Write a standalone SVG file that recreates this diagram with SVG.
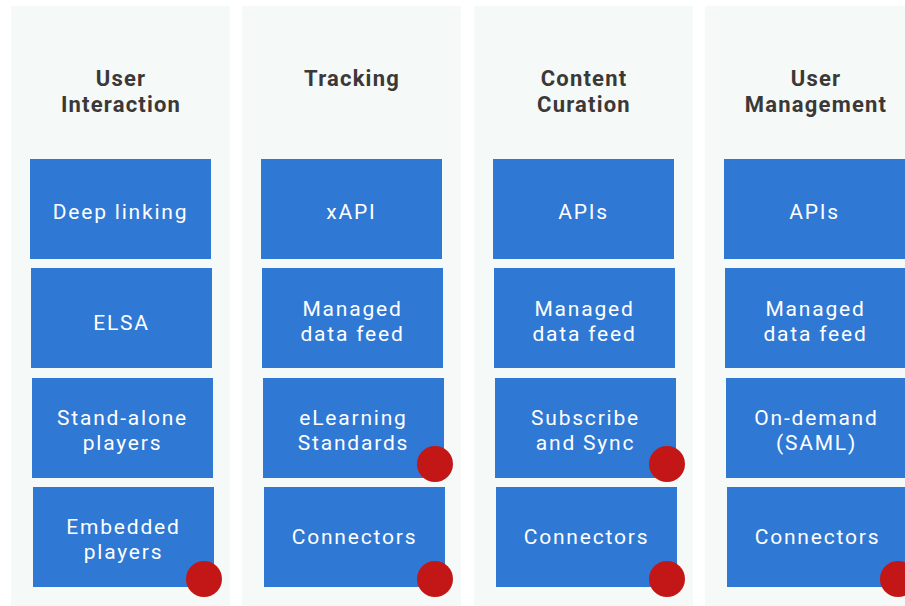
<svg xmlns="http://www.w3.org/2000/svg" width="905" height="606" viewBox="0 0 905 606">
  <style>
    .lane { fill: #f5f9f7; }
    .head { font-family: Roboto, "Open Sans", "Liberation Sans", sans-serif; font-weight: 700; font-size: 22px; fill: #3b3838; text-anchor: middle; letter-spacing: 1.2px; }
    .box rect { fill: #2f78d4; }
    .box text { font-family: Roboto, "Open Sans", "Liberation Sans", sans-serif; font-size: 21px; fill: #ffffff; text-anchor: middle; letter-spacing: 1.8px; }
    .dot { fill: #c31616; }
  </style>
  <rect x="0" y="0" width="905" height="606" fill="#ffffff"/>

  <!-- lanes -->
  <g id="lanes">
    <rect class="lane" x="11" y="6" width="219" height="600"/>
    <rect class="lane" x="242" y="6" width="219" height="600"/>
    <rect class="lane" x="474" y="6" width="219" height="600"/>
    <rect class="lane" x="705" y="6" width="219" height="600"/>
  </g>

  <!-- lane headings -->
  <g id="head-user-interaction"><text class="head" x="121" y="86">User<tspan x="121" dy="26">Interaction</tspan></text></g>
  <g id="head-tracking"><text class="head" x="352" y="86">Tracking</text></g>
  <g id="head-content-curation"><text class="head" x="584" y="86">Content<tspan x="584" dy="26">Curation</tspan></text></g>
  <g id="head-user-management"><text class="head" x="816" y="86">User<tspan x="816" dy="26">Management</tspan></text></g>

  <!-- column 1 -->
  <g id="ui-deep-linking" class="box"><rect x="30" y="159" width="181" height="100"/><text x="120.5" y="219">Deep linking</text></g>
  <g id="ui-elsa" class="box"><rect x="31" y="268" width="181" height="100"/><text x="121.5" y="330">ELSA</text></g>
  <g id="ui-standalone" class="box"><rect x="32" y="378" width="181" height="100"/><text x="122.5" y="425">Stand-alone<tspan x="122.5" dy="25">players</tspan></text></g>
  <g id="ui-embedded" class="box"><rect x="33" y="487" width="181" height="100"/><text x="123.5" y="534">Embedded<tspan x="123.5" dy="25">players</tspan></text></g>

  <!-- column 2 -->
  <g id="tr-xapi" class="box"><rect x="261" y="159" width="181" height="100"/><text x="351.5" y="219">xAPI</text></g>
  <g id="tr-data-feed" class="box"><rect x="262" y="268" width="181" height="100"/><text x="352.5" y="316">Managed<tspan x="352.5" dy="25">data feed</tspan></text></g>
  <g id="tr-elearning" class="box"><rect x="263" y="378" width="181" height="100"/><text x="353.5" y="425">eLearning<tspan x="353.5" dy="25">Standards</tspan></text></g>
  <g id="tr-connectors" class="box"><rect x="264" y="487" width="181" height="100"/><text x="354.5" y="544">Connectors</text></g>

  <!-- column 3 -->
  <g id="cc-apis" class="box"><rect x="493" y="159" width="181" height="100"/><text x="583.5" y="219">APIs</text></g>
  <g id="cc-data-feed" class="box"><rect x="494" y="268" width="181" height="100"/><text x="584.5" y="316">Managed<tspan x="584.5" dy="25">data feed</tspan></text></g>
  <g id="cc-subscribe" class="box"><rect x="495" y="378" width="181" height="100"/><text x="585.5" y="425">Subscribe<tspan x="585.5" dy="25">and Sync</tspan></text></g>
  <g id="cc-connectors" class="box"><rect x="496" y="487" width="181" height="100"/><text x="586.5" y="544">Connectors</text></g>

  <!-- column 4 -->
  <g id="um-apis" class="box"><rect x="724" y="159" width="181" height="100"/><text x="814.5" y="219">APIs</text></g>
  <g id="um-data-feed" class="box"><rect x="725" y="268" width="181" height="100"/><text x="815.5" y="316">Managed<tspan x="815.5" dy="25">data feed</tspan></text></g>
  <g id="um-on-demand" class="box"><rect x="726" y="378" width="181" height="100"/><text x="816.5" y="425">On-demand<tspan x="816.5" dy="25">(SAML)</tspan></text></g>
  <g id="um-connectors" class="box"><rect x="727" y="487" width="181" height="100"/><text x="817.5" y="544">Connectors</text></g>

  <!-- status markers -->
  <g id="markers">
    <circle class="dot" cx="204" cy="579" r="18"/>
    <circle class="dot" cx="435" cy="464" r="18"/>
    <circle class="dot" cx="435" cy="579" r="18"/>
    <circle class="dot" cx="667" cy="464" r="18"/>
    <circle class="dot" cx="667" cy="579" r="18"/>
    <circle class="dot" cx="898" cy="579" r="18"/>
  </g>
</svg>
